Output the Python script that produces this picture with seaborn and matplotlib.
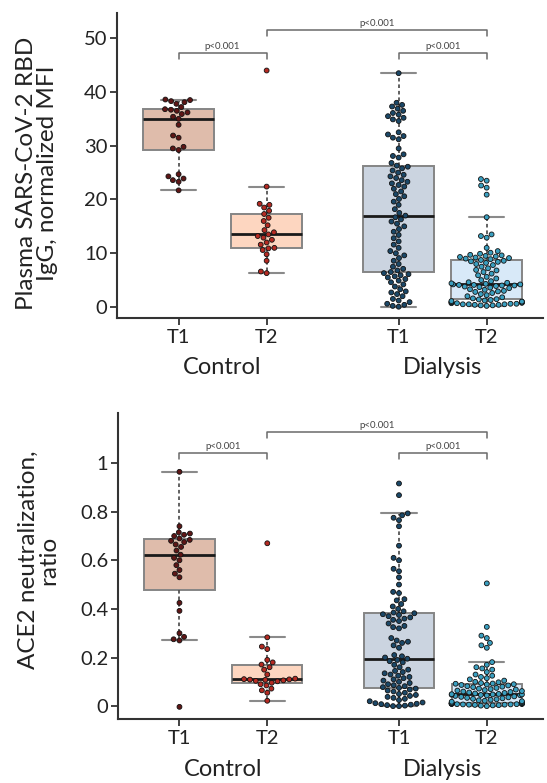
import warnings
warnings.filterwarnings("ignore")
import numpy as np
import pandas as pd
import matplotlib
matplotlib.use("Agg")
import matplotlib.pyplot as plt
import seaborn as sns

# ---------------- data ----------------
group_names = ["Control", "Dialysis"]
timepoints = ["T1", "T2", "T1", "T2"]
series_keys = ["Control T1", "Control T2", "Dialysis T1", "Dialysis T2"]

igg_control_t1 = [21.7, 23.3, 23.6, 23.9, 24.3, 24.7, 29.2, 29.5, 29.8, 31.5, 31.9, 33.9,
                  35.0, 35.4, 35.9, 36.2, 36.5, 36.7, 36.8, 37.2, 37.8, 38.1, 38.3, 38.5, 38.6]
igg_control_t2 = [6.3, 6.6, 8.6, 9.8, 10.6, 10.9, 11.0, 11.6, 12.0, 12.5, 12.9, 13.2, 13.5,
                  13.9, 14.3, 15.2, 16.0, 16.6, 17.3, 17.9, 18.5, 19.0, 19.2, 22.4, 44.0]
igg_dialysis_t1 = [0.05, 0.2, 0.4, 0.6, 0.9, 1.2, 1.5, 2.0, 2.4, 2.7, 2.9, 3.3, 3.8, 4.2, 4.6,
                   4.9, 5.2, 5.5, 5.7, 5.9, 6.1, 6.3, 6.5,
                   6.8, 7.1, 7.5, 8.0, 8.6, 9.1, 9.6, 10.0, 10.4, 11.0, 11.6, 12.2, 12.8, 13.4,
                   14.0, 14.5, 15.0, 15.5, 15.9, 16.3, 16.7, 17.0,
                   17.5, 18.2, 19.0, 19.6, 20.1, 20.6, 21.0, 21.5, 22.0, 22.4, 22.7, 23.0, 23.3,
                   23.6, 24.0, 24.3, 24.6, 25.0, 25.4, 25.8, 26.1, 26.3,
                   26.8, 27.8, 28.1, 28.4, 29.5, 31.2, 31.5, 31.8, 32.1, 32.5, 34.6, 34.9, 35.2,
                   35.5, 35.8, 36.1, 36.5, 36.9, 37.3, 37.6, 38.0, 43.5]
igg_dialysis_t2 = [0.2, 0.3, 0.3, 0.4, 0.4, 0.5, 0.5, 0.5, 0.6, 0.6, 0.7, 0.7, 0.8, 0.8, 0.9,
                   0.9, 1.0, 1.0, 1.1, 1.2, 1.3, 1.4, 1.45,
                   1.6, 1.8, 2.0, 2.2, 2.4, 2.6, 2.8, 2.9, 3.0, 3.2, 3.3, 3.5, 3.6, 3.7, 3.8,
                   3.9, 4.0, 4.0, 4.1, 4.1, 4.2, 4.2,
                   4.3, 4.4, 4.5, 4.6, 4.8, 5.0, 5.3, 5.6, 5.9, 6.2, 6.5, 6.8, 6.9, 7.2, 7.5,
                   7.8, 8.0, 8.2, 8.4, 8.5, 8.6, 8.75,
                   8.9, 9.0, 9.1, 9.2, 9.3, 9.4, 9.5, 9.6, 9.7, 9.9, 10.1, 10.4, 11.0, 12.9,
                   13.2, 13.5, 16.7, 20.9, 22.2, 22.6, 23.5, 23.8]

ace2_control_t1 = [-0.003, 0.270, 0.275, 0.285, 0.300, 0.392, 0.425, 0.53, 0.545, 0.56, 0.58,
                   0.60, 0.61, 0.623, 0.64, 0.655, 0.665, 0.675, 0.68, 0.684, 0.69, 0.70,
                   0.705, 0.71, 0.715, 0.74, 0.964]
ace2_control_t2 = [0.022, 0.055, 0.065, 0.072, 0.085, 0.09, 0.096, 0.102, 0.104, 0.106, 0.108,
                   0.109, 0.11, 0.111, 0.113, 0.13, 0.15, 0.16, 0.171, 0.18, 0.19, 0.235,
                   0.245, 0.283, 0.67]
ace2_dialysis_t1 = [0.0, 0.0, 0.002, 0.004, 0.006, 0.008, 0.01, 0.012, 0.015, 0.02, 0.025, 0.03,
                    0.034, 0.038, 0.042, 0.046, 0.05, 0.055, 0.06, 0.064, 0.068, 0.072, 0.075,
                    0.078, 0.082, 0.086, 0.09, 0.095, 0.10, 0.105, 0.11, 0.115, 0.12, 0.125,
                    0.13, 0.135, 0.14, 0.145, 0.15, 0.16, 0.17, 0.18, 0.185, 0.19, 0.195,
                    0.2, 0.205, 0.21, 0.24, 0.25, 0.26, 0.265, 0.27, 0.28, 0.32, 0.325, 0.33,
                    0.34, 0.35, 0.355, 0.36, 0.365, 0.37, 0.375, 0.378, 0.382, 0.385,
                    0.39, 0.40, 0.41, 0.42, 0.435, 0.44, 0.465, 0.47, 0.50, 0.53, 0.555, 0.565,
                    0.6, 0.61, 0.66, 0.74, 0.765, 0.775, 0.785, 0.793, 0.868, 0.916]
ace2_dialysis_t2 = [0.0, 0.002, 0.003, 0.004, 0.005, 0.006, 0.006, 0.007, 0.007, 0.008, 0.008,
                    0.009, 0.009, 0.010, 0.010, 0.010, 0.011, 0.011, 0.011, 0.011, 0.012, 0.012,
                    0.012,
                    0.014, 0.016, 0.018, 0.02, 0.022, 0.024, 0.026, 0.028, 0.03, 0.032, 0.034,
                    0.036, 0.038, 0.04, 0.042, 0.044, 0.045, 0.046, 0.047, 0.048, 0.048, 0.049,
                    0.05, 0.052, 0.054, 0.056, 0.058, 0.06, 0.062, 0.064, 0.066, 0.068, 0.07,
                    0.072, 0.075, 0.078, 0.08, 0.082, 0.085, 0.087, 0.089, 0.09, 0.092, 0.093,
                    0.095, 0.098, 0.10, 0.105, 0.11, 0.115, 0.12, 0.125, 0.13, 0.14, 0.15,
                    0.155, 0.16, 0.17, 0.181, 0.24, 0.25, 0.26, 0.28, 0.29, 0.326, 0.505]

igg_yticks = [0, 10, 20, 30, 40, 50]
igg_yticklabels = ["0", "10", "20", "30", "40", "50"]
ace2_yticks = [0, 0.2, 0.4, 0.6, 0.8, 1.0]
ace2_yticklabels = ["0", "0.2", "0.4", "0.6", "0.8", "1"]
p_label = "p<0.001"

# ---------------- layout / style ----------------
x_pos = [0, 1, 2.5, 3.5]
box_colors = {"Control T1": "#dfbcab", "Control T2": "#fdd6c0",
              "Dialysis T1": "#cbd4e0", "Dialysis T2": "#d8e9f8"}
pt_colors = {"Control T1": "#5e1616", "Control T2": "#b52a22",
             "Dialysis T1": "#1b4868", "Dialysis T2": "#3a9fc0"}

sns.set_theme(style="ticks")
plt.rcParams["font.family"] = ["Lato", "DejaVu Sans"]

W, H = 547, 783
fig = plt.figure(figsize=(W / 100, H / 100), dpi=100)


def make_df(series):
    rows = []
    for key, xp, vals in zip(series_keys, x_pos, series):
        for v in vals:
            rows.append({"pos": xp, "key": key, "value": v})
    return pd.DataFrame(rows)


def draw_panel(rect, series, ylim, yticks, yticklabels, ylabel, br_low, br_high, tick_len,
               ylab_y):
    ax = fig.add_axes(rect)
    df = make_df(series)
    sns.boxplot(data=df, x="pos", y="value", hue="key", palette=box_colors,
                native_scale=True, saturation=1, showfliers=False, width=0.8,
                linecolor="#858585", linewidth=1.4, dodge=False, legend=False,
                medianprops=dict(color="#1a1a1a", linewidth=2.0),
                whiskerprops=dict(color="#555555", linewidth=1.3, linestyle=(0, (2.0, 1.6))),
                capprops=dict(color="#8a8a8a", linewidth=1.5),
                ax=ax)
    sns.swarmplot(data=df, x="pos", y="value", hue="key", palette=pt_colors,
                  native_scale=True, size=3.5, edgecolor="#111111", linewidth=0.6,
                  dodge=False, legend=False, zorder=3, ax=ax)
    ax.set_xlim(-0.70, 4.14)
    ax.set_ylim(*ylim)
    ax.set_xticks(x_pos)
    ax.set_xticklabels(timepoints)
    ax.set_yticks(yticks)
    ax.set_yticklabels(yticklabels)
    ax.set_xlabel("")
    ax.set_ylabel(ylabel, fontsize=17.5, linespacing=1.0, color="#222222")
    ax.yaxis.set_label_coords(-0.138, ylab_y)
    for s in ["top", "right"]:
        ax.spines[s].set_visible(False)
    for s in ["left", "bottom"]:
        ax.spines[s].set_color("#333333")
        ax.spines[s].set_linewidth(1.5)
    ax.tick_params(axis="both", direction="out", length=5, width=1.3, color="#333333",
                   labelsize=14.5, labelcolor="#222222", pad=2)
    ax.tick_params(axis="x", pad=3)
    # group labels
    for gname, xc in zip(group_names, [(x_pos[0] + x_pos[1]) / 2, (x_pos[2] + x_pos[3]) / 2]):
        ax.annotate(gname, xy=(xc, 0), xycoords=("data", "axes fraction"),
                    xytext=(0, -50), textcoords="offset pixels",
                    ha="center", va="center", fontsize=17, color="#222222")
    # brackets
    def bracket(x1, x2, y):
        ax.plot([x1, x1, x2, x2], [y - tick_len, y, y, y - tick_len], color="#6a6a6a",
                linewidth=1.1, clip_on=False, zorder=4)
        ax.annotate(p_label, xy=((x1 + x2) / 2, y), xycoords="data", xytext=(0, 1.5),
                    textcoords="offset points", ha="center", va="bottom", fontsize=7,
                    color="#444444")
    bracket(x_pos[0], x_pos[1], br_low)
    bracket(x_pos[2], x_pos[3], br_low)
    bracket(x_pos[1], x_pos[3], br_high)
    return ax


draw_panel([117 / W, 1 - 318 / H, 426 / W, 305 / H],
           [igg_control_t1, igg_control_t2, igg_dialysis_t1, igg_dialysis_t2],
           (-2.05, 54.7), igg_yticks, igg_yticklabels,
           "Plasma SARS-CoV-2 RBD\nIgG, normalized MFI", 47.3, 51.6, 1.1, 0.475)
draw_panel([118 / W, 1 - 719 / H, 425 / W, 306 / H],
           [ace2_control_t1, ace2_control_t2, ace2_dialysis_t1, ace2_dialysis_t2],
           (-0.053, 1.206), ace2_yticks, ace2_yticklabels,
           "ACE2 neutralization,\nratio", 1.04, 1.128, 0.025, 0.52)

fig.savefig("out.png", dpi=100, facecolor="white")
